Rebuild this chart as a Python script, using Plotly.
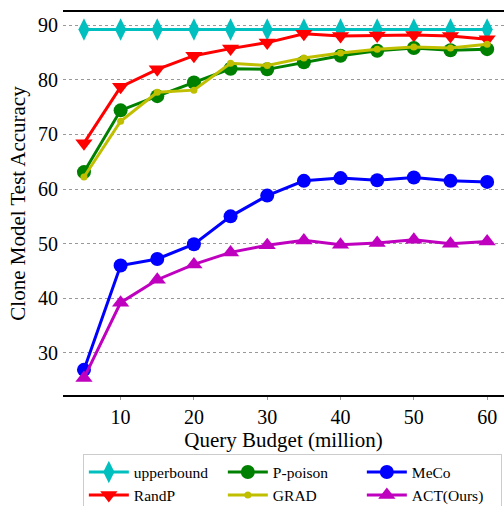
import plotly.graph_objects as go

budget = [5, 10, 15, 20, 25, 30, 35, 40, 45, 50, 55, 60]
upperbound = [89.2] * 12
randp = [68.4, 78.7, 81.9, 84.4, 85.7, 86.8, 88.4, 88.0, 88.1, 88.2, 88.0, 87.4]
ppoison = [63.1, 74.4, 77.0, 79.5, 82.0, 81.9, 83.2, 84.4, 85.3, 85.8, 85.4, 85.6]
grad = [62.2, 72.4, 77.7, 78.1, 83.0, 82.6, 84.0, 84.9, 85.6, 86.0, 85.8, 86.5]
meco = [26.9, 46.0, 47.2, 49.9, 55.0, 58.8, 61.5, 62.0, 61.6, 62.1, 61.5, 61.3]
act = [25.4, 39.2, 43.4, 46.2, 48.4, 49.7, 50.6, 49.8, 50.1, 50.7, 50.0, 50.4]

series = [
    ("upperbound", upperbound, "#00BFBF", "diamond-tall", 16, 1),
    ("RandP", randp, "#FF0000", "triangle-down", 15, 4),
    ("P-poison", ppoison, "#008000", "circle", 14, 2),
    ("GRAD", grad, "#BFBF00", "circle", 7, 5),
    ("MeCo", meco, "#0000FF", "circle", 14, 3),
    ("ACT(Ours)", act, "#BF00BF", "triangle-up", 15, 6),
]

fig = go.Figure()
for name, vals, col, sym, sz, rank in series:
    fig.add_trace(go.Scatter(
        x=budget, y=vals, name=name, mode="lines+markers",
        line=dict(color=col, width=3),
        marker=dict(symbol=sym, size=sz, color=col, line=dict(width=0)),
        legendrank=rank,
    ))

font = "Liberation Serif, Times New Roman, serif"
fig.update_layout(
    width=504, height=506,
    margin=dict(l=63, r=0, t=12, b=111, autoexpand=False),
    plot_bgcolor="white", paper_bgcolor="white",
    font=dict(family=font, color="black"),
    showlegend=True,
    legend=dict(
        orientation="h", x=0.045, y=-0.155, xanchor="left", yanchor="top",
        bordercolor="#cccccc", borderwidth=1,
        font=dict(size=15.5, family=font), entrywidth=84,
        tracegroupgap=0, itemwidth=40,
    ),
    xaxis=dict(
        range=[2.14, 62.3], tickvals=[10, 20, 30, 40, 50, 60],
        showline=True, linecolor="black", linewidth=2, mirror=True,
        showgrid=False, zeroline=False, automargin=False,
        ticks="outside", ticklen=3, tickcolor="#999999", tickwidth=1,
        tickfont=dict(size=20), ticklabelstandoff=0,
        title=dict(text="Query Budget (million)", font=dict(size=21), standoff=0),
    ),
    yaxis=dict(
        range=[22.3, 92.4], tickvals=[30, 40, 50, 60, 70, 80, 90],
        showline=False, zeroline=False, ticks="", automargin=False,
        showgrid=True, gridcolor="#999999", griddash="dot", gridwidth=1,
        tickfont=dict(size=20), ticklabelstandoff=4,
        title=dict(text="Clone Model Test Accuracy", font=dict(size=21), standoff=6),
    ),
)
fig.write_html("out.html", config={"displayModeBar": False},
               post_script="document.body.style.margin='0';document.body.style.overflow='hidden';")
